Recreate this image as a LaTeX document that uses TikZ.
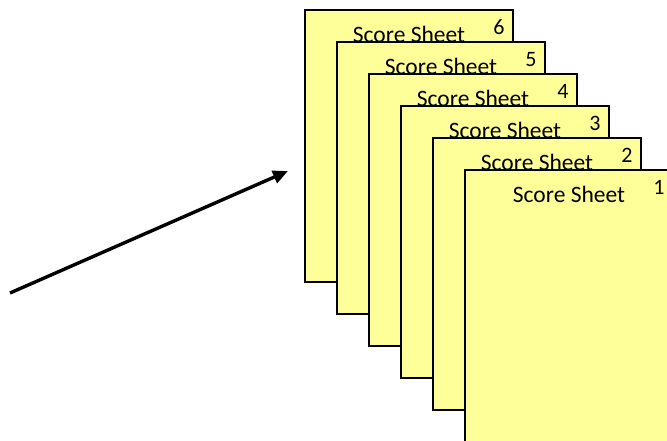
\documentclass[tikz,border=0pt]{standalone}
\usepackage{fontspec}
\setmainfont{Carlito}
\usetikzlibrary{arrows.meta}
\definecolor{sheetyellow}{RGB}{255,255,153}
\begin{document}
\begin{tikzpicture}[x=1pt,y=-1pt,
  sheet/.style={draw=black, line width=1.4pt, fill=sheetyellow,
    minimum width=208pt, minimum height=272pt, anchor=north west,
    inner sep=0pt, outer sep=0pt},
  sheettitle/.style={font=\fontsize{23.5}{23.5}\selectfont, anchor=base, inner sep=0pt},
  sheetnum/.style={font=\fontsize{22}{22}\selectfont, anchor=base, inner sep=0pt},
  bigarrow/.style={line width=3.4pt, -{Triangle[length=15pt,width=13pt]}}]
\useasboundingbox (0,0) rectangle (667,440);
\clip (0,0) rectangle (667,440);
\foreach \i in {6,5,4,3,2,1} {
  \pgfmathsetmacro\sx{305+(6-\i)*32}
  \pgfmathsetmacro\sy{10+(6-\i)*32}
  \node[sheet] (s\i) at (\sx,\sy) {};
  \node[sheettitle] (t\i) at ([yshift=-32pt]s\i.north) {Score Sheet};
  \node[sheetnum] (n\i) at ([xshift=-14pt,yshift=-24pt]s\i.north east) {\i};
}
\coordinate (a0) at (10,293);
\coordinate (a1) at (288,171);
\draw[bigarrow] (a0) -- (a1);
\end{tikzpicture}
\end{document}
